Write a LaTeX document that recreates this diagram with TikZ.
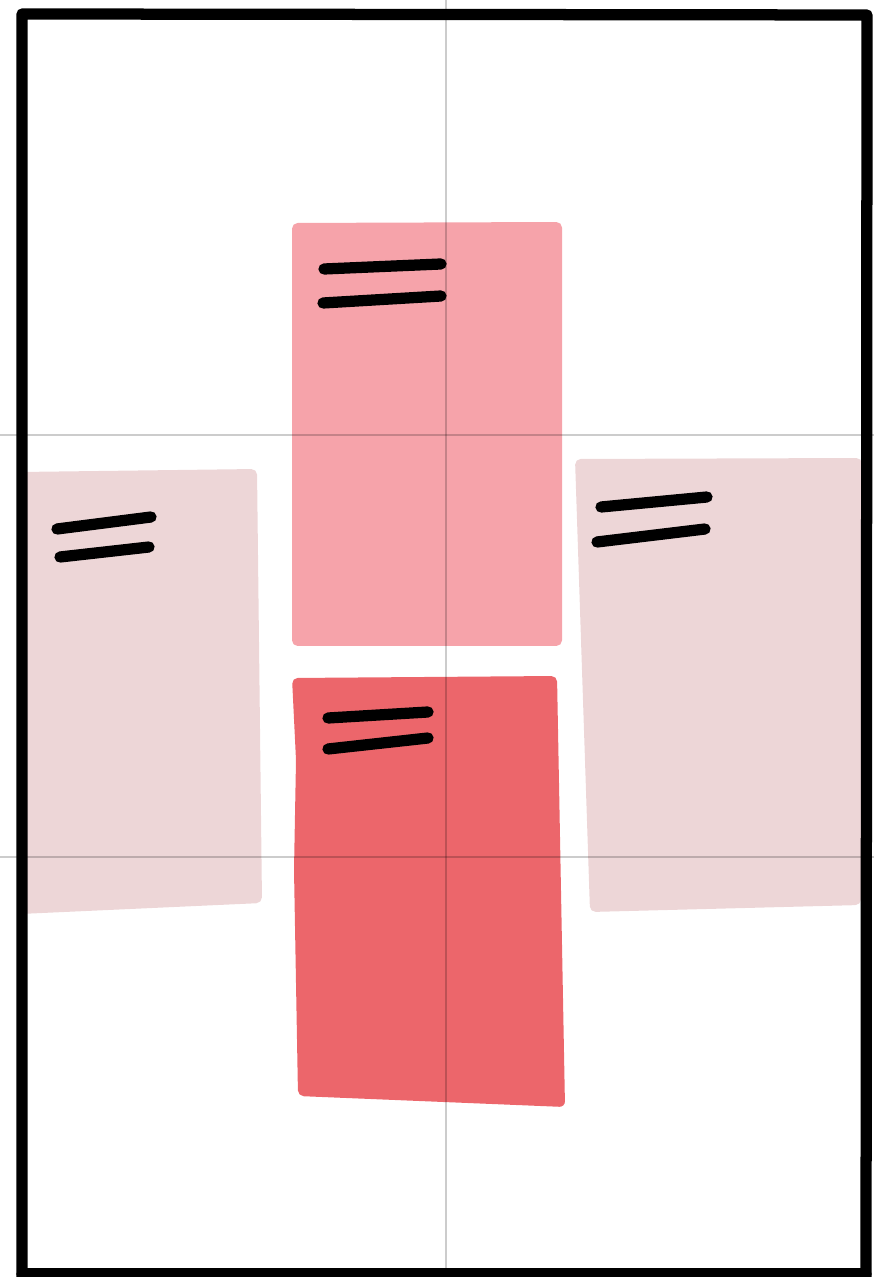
\documentclass[tikz,border=0pt]{standalone}
\usepackage{tikz}
\usepackage{xcolor}
\definecolor{cardtop}{HTML}{F6A3AA}
\definecolor{cardbot}{HTML}{EC666B}
\definecolor{cardside}{HTML}{EDD6D7}
\begin{document}
\begin{tikzpicture}[x=0.01cm,y=-0.01cm,
    card/.style={rounded corners=1.6pt},
    bar/.style={line width=3.2pt,line cap=round},
    guide/.style={black,opacity=0.2,line width=0.35pt},
    frame/.style={line width=3.2pt,line cap=round,line join=round}]
    \useasboundingbox (0,0) rectangle (874,1277);
    % side cards
    \fill[cardside,card] (20,472)--(257,469)--(262,903)--(20,914)--cycle;
    \fill[cardside,card] (575,459)--(862,458)--(861,905)--(590,912)--cycle;
    % top card
    \fill[cardtop,card] (292,223)--(562,222)--(562,646)--(292,646)--cycle;
    % bottom card
    \fill[cardbot,card] (292,678)--(557,676)--(565,1107)--(298,1096)--(294,870)--(296,760)--cycle;
    % bars
    \draw[bar] (324,269)--(441,264);
    \draw[bar] (323,303)--(441,296);
    \draw[bar] (328,718)--(428,712);
    \draw[bar] (328,749)--(428,738);
    \draw[bar] (57,529)--(151,517);
    \draw[bar] (60,557)--(149,547);
    \draw[bar] (601,507)--(707,497);
    \draw[bar] (597,542)--(705,529);
    % guides
    \draw[guide] (446,0)--(446,1277);
    \draw[guide] (0,435)--(874,435);
    \draw[guide] (0,857)--(874,857);
    % frame
    \draw[frame] (22,1290)--(22,14)--(867,15)--(866,1290);
    \draw[frame] (22,1274)--(866,1274);
\end{tikzpicture}
\end{document}
